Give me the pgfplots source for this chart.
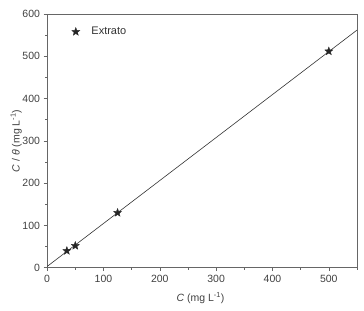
\documentclass[border=0pt]{standalone}
\usepackage{fontspec}
\setmainfont{Liberation Sans}
\usepackage{pgfplots}
\pgfplotsset{compat=1.18}
\pgfdeclareplotmark{fstar}{%
  \pgfpathmoveto{\pgfpointpolar{90}{\pgfplotmarksize}}%
  \pgfpathlineto{\pgfpointpolar{126}{0.42\pgfplotmarksize}}%
  \pgfpathlineto{\pgfpointpolar{162}{\pgfplotmarksize}}%
  \pgfpathlineto{\pgfpointpolar{198}{0.42\pgfplotmarksize}}%
  \pgfpathlineto{\pgfpointpolar{234}{\pgfplotmarksize}}%
  \pgfpathlineto{\pgfpointpolar{270}{0.42\pgfplotmarksize}}%
  \pgfpathlineto{\pgfpointpolar{306}{\pgfplotmarksize}}%
  \pgfpathlineto{\pgfpointpolar{342}{0.42\pgfplotmarksize}}%
  \pgfpathlineto{\pgfpointpolar{18}{\pgfplotmarksize}}%
  \pgfpathlineto{\pgfpointpolar{54}{0.42\pgfplotmarksize}}%
  \pgfpathclose
  \pgfusepathqfillstroke
}
\begin{document}
\fontsize{10.5}{12}\selectfont
\begin{tikzpicture}
\begin{axis}[
  name=ax,
  scale only axis,
  width=309bp, height=253bp,
  xmin=0, xmax=550, ymin=0, ymax=600,
  xtick={0,100,...,500}, ytick={0,100,...,600},
  minor xtick={50,150,...,550}, minor ytick={50,150,...,550},
  tick align=outside,
  xtick pos=bottom, ytick pos=left,
  major tick length=3.5bp, minor tick length=2bp,
  axis line style={black!60, line width=0.8pt},
  tick style={black!60, line width=0.6pt},
  every tick label/.style={font=\fontsize{10.5}{12}\selectfont, text=black!75},
  /pgf/number format/assume math mode=true,
  xlabel={\textit{C} (mg L\textsuperscript{-1})},
  ylabel={\textit{C} / \textit{θ} (mg L\textsuperscript{-1})},
  label style={font=\fontsize{10.5}{12}\selectfont, text=black!75},
  xlabel style={at={(axis description cs:0.495,-0.119)}, anchor=center},
  ylabel style={at={(axis description cs:-0.1,0.5)}, anchor=center},
  legend style={draw=none, fill=none, inner sep=0pt, outer sep=0pt,
    at={(axis description cs:0.065,0.93)}, anchor=west,
    font=\fontsize{11}{13}\selectfont, text=black!80},
  legend cell align=left,
  legend image code/.code={%
    \path[draw=none, fill=none] (0cm,0cm) (0.78cm,0cm);
    \draw[mark=fstar, mark size=4.3pt, fill=black!85, draw=black!85, line width=0.3pt] plot coordinates {(0.3cm,0cm)};
  },
]
\addplot[only marks, mark=fstar, mark options={fill=black!85, draw=black!85, line width=0.3pt}, mark size=4.3pt] coordinates {(35,40) (50,52) (125,130) (500,512)};
\addlegendentry{Extrato}
\addplot[black!80, line width=0.6pt, no marks, forget plot] coordinates {(0,3) (550,562)};
\end{axis}
\path ([shift={(-47bp,-43bp)}]ax.south west) rectangle ([shift={(7bp,14bp)}]ax.north east);
\end{tikzpicture}
\end{document}
